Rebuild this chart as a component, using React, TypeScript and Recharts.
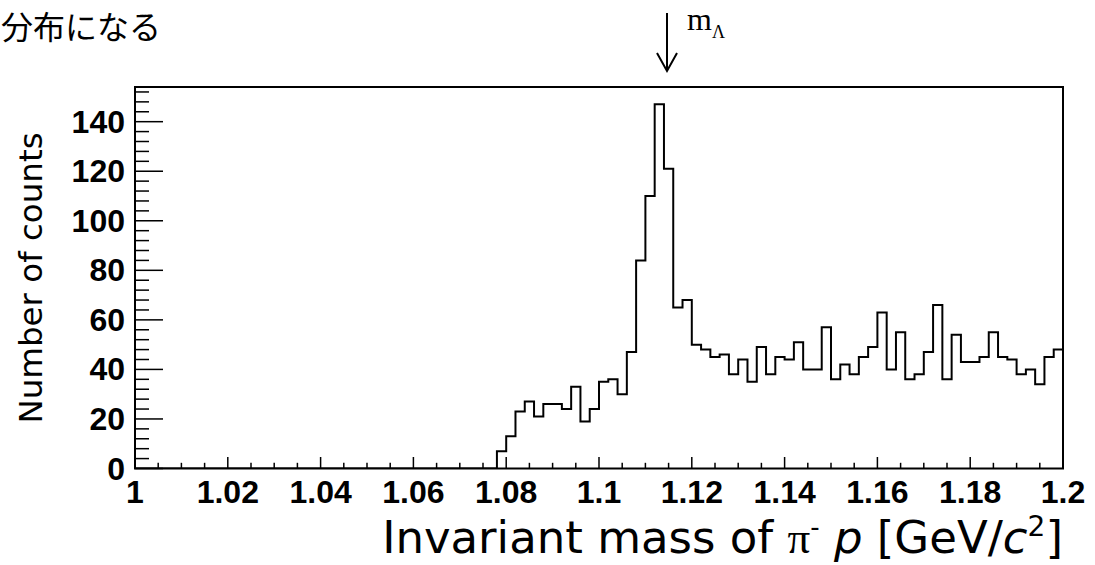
import { ComposedChart, Line, XAxis, YAxis, ReferenceArea } from 'recharts';

// histogram: 100 bins of 2 MeV from 1.000 to 1.200 GeV/c^2
const BIN_LOW = 1.0;
const BIN_WIDTH = 0.002;
const COUNTS = [
  // 1.000 – 1.076 : empty
  0, 0, 0, 0, 0, 0, 0, 0, 0, 0,
  0, 0, 0, 0, 0, 0, 0, 0, 0, 0,
  0, 0, 0, 0, 0, 0, 0, 0, 0, 0,
  0, 0, 0, 0, 0, 0, 0, 0, 0,
  // 1.078 – 1.136
  7, 13, 23, 27, 21, 26, 26, 24, 33, 19,
  24, 35, 36, 30, 47, 84, 110, 147, 121, 65,
  68, 50, 48, 45, 46, 38, 44, 35, 49, 38,
  // 1.138 – 1.198
  45, 44, 51, 40, 40, 57, 36, 42, 38, 45,
  49, 63, 40, 55, 36, 38, 47, 66, 36, 54,
  43, 43, 45, 55, 45, 44, 38, 40, 34, 45,
  48,
];

const X_DOMAIN = [1.0, 1.2];
const Y_DOMAIN = [0, 154];
const X_MAJOR = [1.0, 1.02, 1.04, 1.06, 1.08, 1.1, 1.12, 1.14, 1.16, 1.18, 1.2];
const Y_MAJOR = [0, 20, 40, 60, 80, 100, 120, 140];
const X_MINOR_STEP = 0.005;
const Y_MINOR_STEP = 4;

const W = 1095;
const H = 565;

// step points at bin low edges + closing edge
const data = COUNTS.map((c, i) => ({ x: +(BIN_LOW + i * BIN_WIDTH).toFixed(3), count: c }));
data.push({ x: X_DOMAIN[1], count: COUNTS[COUNTS.length - 1] });

const xTicks: number[] = [];
for (let v = X_DOMAIN[0]; v <= X_DOMAIN[1] + 1e-9; v += X_MINOR_STEP) xTicks.push(+v.toFixed(3));
const yTicks: number[] = [];
for (let v = Y_DOMAIN[0]; v <= Y_DOMAIN[1]; v += Y_MINOR_STEP) yTicks.push(v);

const isMajor = (v: number, list: number[]) => list.some((m) => Math.abs(m - v) < 1e-6);

const tickFont = {
  fontFamily: '"Liberation Sans", Arial, sans-serif',
  fontWeight: 700,
  fontSize: 32,
  fill: '#000',
};

function XTick(props: any) {
  const { x, y, payload } = props;
  const major = isMajor(payload.value, X_MAJOR);
  return (
    <g>
      <line x1={x} x2={x} y1={y} y2={y - (major ? 11.5 : 5.7)} stroke="#000" strokeWidth={1.5} />
      {major && (
        <text x={x} y={y + 34} textAnchor="middle" {...tickFont}>
          {String(+payload.value.toFixed(2))}
        </text>
      )}
    </g>
  );
}

function YTick(props: any) {
  const { x, y, payload } = props;
  const major = isMajor(payload.value, Y_MAJOR);
  return (
    <g>
      <line x1={x} x2={x + (major ? 28 : 14)} y1={y} y2={y} stroke="#000" strokeWidth={1.5} />
      {major && (
        <text x={x - 10} y={y + 11} textAnchor="end" {...tickFont}>
          {payload.value}
        </text>
      )}
    </g>
  );
}

const sans = '"DejaVu Sans", Verdana, sans-serif';
const serif = '"Liberation Serif", "Times New Roman", serif';

export default function App() {
  return (
    <div style={{ position: 'relative', width: W, height: H, background: '#fff' }}>
      <style>{'body{margin:0}'}</style>
      <ComposedChart
        width={W}
        height={H}
        data={data}
        margin={{ top: 87, right: 32, bottom: 36.5, left: 35 }}
      >
        <XAxis
          dataKey="x"
          type="number"
          domain={X_DOMAIN}
          ticks={xTicks}
          interval={0}
          allowDataOverflow
          axisLine={false}
          tickLine={false}
          tickSize={0}
          tickMargin={0}
          height={60}
          tick={<XTick />}
        />
        <YAxis
          type="number"
          domain={Y_DOMAIN}
          ticks={yTicks}
          interval={0}
          allowDataOverflow
          axisLine={false}
          tickLine={false}
          tickSize={0}
          tickMargin={0}
          width={100}
          tick={<YTick />}
        />
        <ReferenceArea
          x1={X_DOMAIN[0]}
          x2={X_DOMAIN[1]}
          y1={Y_DOMAIN[0]}
          y2={Y_DOMAIN[1]}
          fill="none"
          fillOpacity={0}
          stroke="#000"
          strokeWidth={2}
        />
        <Line
          type="stepAfter"
          dataKey="count"
          stroke="#000"
          strokeWidth={2}
          dot={false}
          isAnimationActive={false}
        />
      </ComposedChart>

      <svg
        width={W}
        height={H}
        style={{ position: 'absolute', left: 0, top: 0, pointerEvents: 'none' }}
      >
        <text x={1} y={38.5} fontFamily='"Noto Sans CJK JP", sans-serif' fontSize={32} fill="#000">
          分布になる
        </text>

        {/* m_Λ marker */}
        <line x1={667} x2={667} y1={13} y2={71} stroke="#000" strokeWidth={2} />
        <polyline points="657,53 667,71 677,53" fill="none" stroke="#000" strokeWidth={2} />
        <text x={687} y={30} fontFamily={serif} fontSize={32} fill="#000">
          m<tspan fontSize={18} dy={8}>Λ</tspan>
        </text>

        <text
          transform="translate(42,278) rotate(-90)"
          textAnchor="middle"
          fontFamily={sans}
          fontSize={32.5}
          fill="#000"
        >
          Number of counts
        </text>

        <text x={1063} y={553} textAnchor="end" fontFamily={sans} fontSize={45} fill="#000">
          Invariant mass of{' '}
          <tspan fontFamily={serif}>π</tspan>
          <tspan fontSize={26} dy={-17}>-</tspan>
          <tspan dy={17}> </tspan>
          <tspan fontStyle="italic">p</tspan> [GeV/
          <tspan fontStyle="italic">c</tspan>
          <tspan fontSize={28} dy={-17}>2</tspan>
          <tspan dy={17}>]</tspan>
        </text>
      </svg>
    </div>
  );
}
